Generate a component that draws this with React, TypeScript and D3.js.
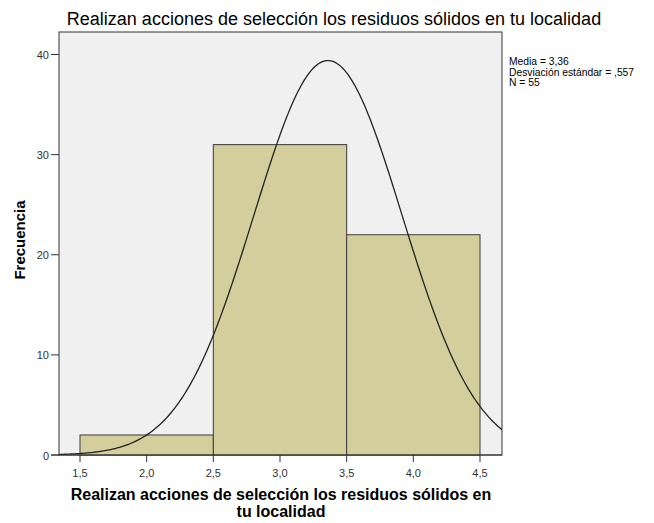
import React from 'react';
import * as d3 from 'd3';

const binStarts = [1.5, 2.5, 3.5];
const binCounts = [2, 31, 22];
const binWidth = 1;
const xTicks = [1.5, 2.0, 2.5, 3.0, 3.5, 4.0, 4.5];
const yTicks = [0, 10, 20, 30, 40];
const mean = 3.36;
const sd = 0.557;
const n = 55;
const statsLines = ['Media = 3,36', 'Desviación estándar = ,557', 'N = 55'];

const W = 654;
const H = 523;
const plot = {left: 59, top: 32, right: 502, bottom: 455};

function App() {
  const x = d3.scaleLinear().domain([1.5, 4.5]).range([80, 480]);
  const y = d3.scaleLinear().domain([0, 40]).range([455, 54.5]);
  const fmt = (v: number) => d3.format('.1f')(v).replace('.', ',');

  // normal curve scaled to counts, across the whole plot width (clipped)
  const xMin = x.invert(plot.left);
  const xMax = x.invert(plot.right);
  const curvePts = d3.range(0, 301).map(i => {
    const v = xMin + (xMax - xMin) * i / 300;
    const dens = Math.exp(-0.5 * ((v - mean) / sd) ** 2) / (sd * Math.sqrt(2 * Math.PI));
    return [v, dens * n * binWidth] as [number, number];
  });
  const line = d3.line<[number, number]>()
    .x(d => x(d[0]))
    .y(d => y(d[1]));

  const font = 'Arial, "Liberation Sans", sans-serif';

  return (
    <svg width={W} height={H} style={{position: 'absolute', left: 0, top: 0, background: '#fff'}}>
      <defs>
        <clipPath id="plotclip">
          <rect x={plot.left} y={plot.top} width={plot.right - plot.left} height={plot.bottom - plot.top}/>
        </clipPath>
      </defs>
      <text x={334} y={25} textAnchor="middle" fontFamily={font} fontSize={18} fill="#000">
        Realizan acciones de selección los residuos sólidos en tu localidad
      </text>
      <rect x={plot.left} y={plot.top} width={plot.right - plot.left} height={plot.bottom - plot.top}
            fill="#f0f0f0" stroke="#333" strokeWidth={1}/>
      {binStarts.map((b, i) => (
        <rect key={b} x={x(b)} y={y(binCounts[i])} width={x(b + binWidth) - x(b)}
              height={y(0) - y(binCounts[i])} fill="#d3ce9b" stroke="#3c3c3c" strokeWidth={1}/>
      ))}
      <path d={line(curvePts) || ''} fill="none" stroke="#222" strokeWidth={1.3} clipPath="url(#plotclip)"/>
      <line x1={51} x2={plot.right} y1={plot.bottom} y2={plot.bottom} stroke="#333"/>
      {yTicks.map(t => (
        <g key={t}>
          <line x1={plot.left - 8} x2={plot.left} y1={y(t)} y2={y(t)} stroke="#333"/>
          <text x={plot.left - 10} y={y(t) + 4.5} textAnchor="end" fontFamily={font} fontSize={11} fill="#333">{t}</text>
        </g>
      ))}
      {xTicks.map(t => (
        <g key={t}>
          <line x1={x(t)} x2={x(t)} y1={plot.bottom} y2={plot.bottom + 7} stroke="#333"/>
          <text x={x(t)} y={plot.bottom + 22} textAnchor="middle" fontFamily={font} fontSize={11} fill="#333">{fmt(t)}</text>
        </g>
      ))}
      <text transform="translate(25,240) rotate(-90)" textAnchor="middle" fontFamily={font} fontSize={15} fontWeight="bold" fill="#000">
        Frecuencia
      </text>
      <text x={281} y={500} textAnchor="middle" fontFamily={font} fontSize={16} fontWeight="bold" fill="#000">
        Realizan acciones de selección los residuos sólidos en
      </text>
      <text x={281} y={517} textAnchor="middle" fontFamily={font} fontSize={16} fontWeight="bold" fill="#000">
        tu localidad
      </text>
      {statsLines.map((s, i) => (
        <text key={s} x={509} y={65 + i * 10.5} fontFamily={font} fontSize={10.3} fill="#000">{s}</text>
      ))}
    </svg>
  );
}

export default App;
